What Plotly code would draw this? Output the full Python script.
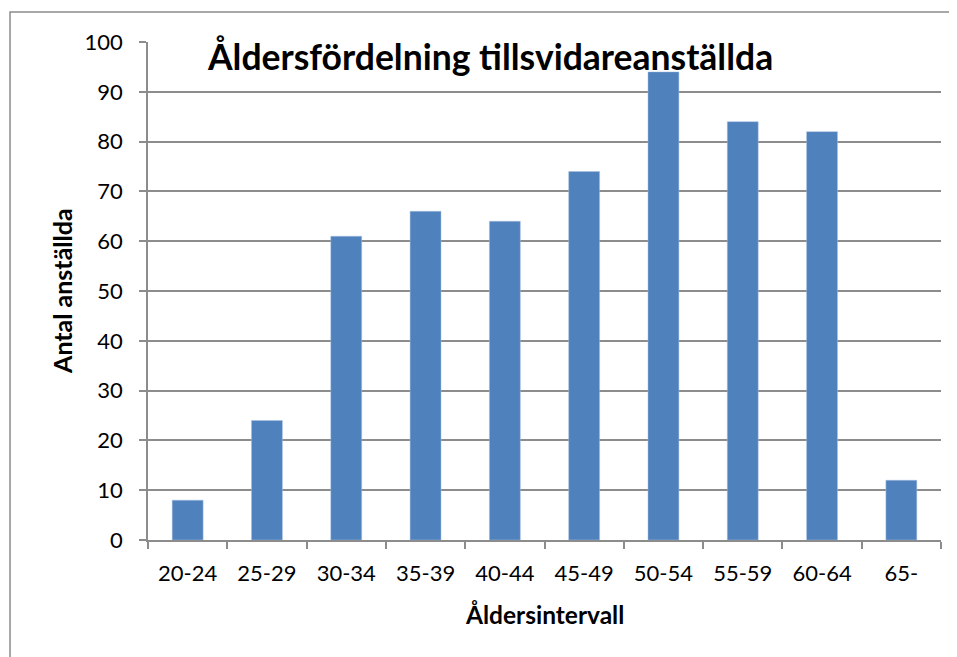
import plotly.graph_objects as go

categories = ["20-24", "25-29", "30-34", "35-39", "40-44", "45-49", "50-54", "55-59", "60-64", "65-"]
counts = [8, 24, 61, 66, 64, 74, 94, 84, 82, 12]
title_text = "Åldersfördelning tillsvidareanställda"
x_title = "Åldersintervall"
y_title = "Antal anställda"

FONT = "Lato, 'Open Sans', sans-serif"
GRID = "#8c8c8c"

fig = go.Figure(go.Bar(
    x=categories, y=counts,
    marker=dict(color="#4f81bd", line=dict(color="#a8c0e0", width=0.5)),
    width=0.39,
))

fig.update_layout(
    width=949, height=649,
    margin=dict(l=140, r=16, t=34, b=117),
    paper_bgcolor="white", plot_bgcolor="white",
    showlegend=False,
    font=dict(family=FONT, color="black"),
    xaxis=dict(
        type="category", tickson="boundaries", ticks="outside", ticklen=7,
        tickcolor=GRID, tickwidth=1.5,
        showline=True, linecolor=GRID, linewidth=1.5,
        showgrid=False, tickfont=dict(size=22), ticklabelstandoff=13,
    ),
    yaxis=dict(
        range=[0, 100], dtick=10, ticks="outside", ticklen=7,
        tickcolor=GRID, tickwidth=1.5,
        showline=True, linecolor=GRID, linewidth=1.5,
        showgrid=True, gridcolor=GRID, gridwidth=1.5,
        zeroline=False, tickfont=dict(size=22), ticklabelstandoff=12,
    ),
    annotations=[
        dict(text=f"<b>{title_text}</b>", xref="paper", yref="paper",
             x=0.431, y=0.97, xanchor="center", yanchor="middle", showarrow=False,
             font=dict(size=35.5, family=FONT, color="black")),
        dict(text=f"<b>{x_title}</b>", xref="paper", yref="paper",
             x=0.5, y=-0.149, xanchor="center", yanchor="middle", showarrow=False,
             font=dict(size=24.5, family=FONT, color="black")),
        dict(text=f"<b>{y_title}</b>", xref="paper", yref="paper",
             x=-0.1085, y=0.5, xanchor="center", yanchor="middle", showarrow=False,
             textangle=-90, font=dict(size=25, family=FONT, color="black")),
    ],
    shapes=[dict(
        type="rect", xref="paper", yref="paper",
        x0=-0.174, x1=1.2, y0=-0.4, y1=1.06,
        line=dict(color="#8c8c8c", width=1.5), fillcolor="rgba(0,0,0,0)", layer="below",
    )],
)

fig.write_html("out.html")
